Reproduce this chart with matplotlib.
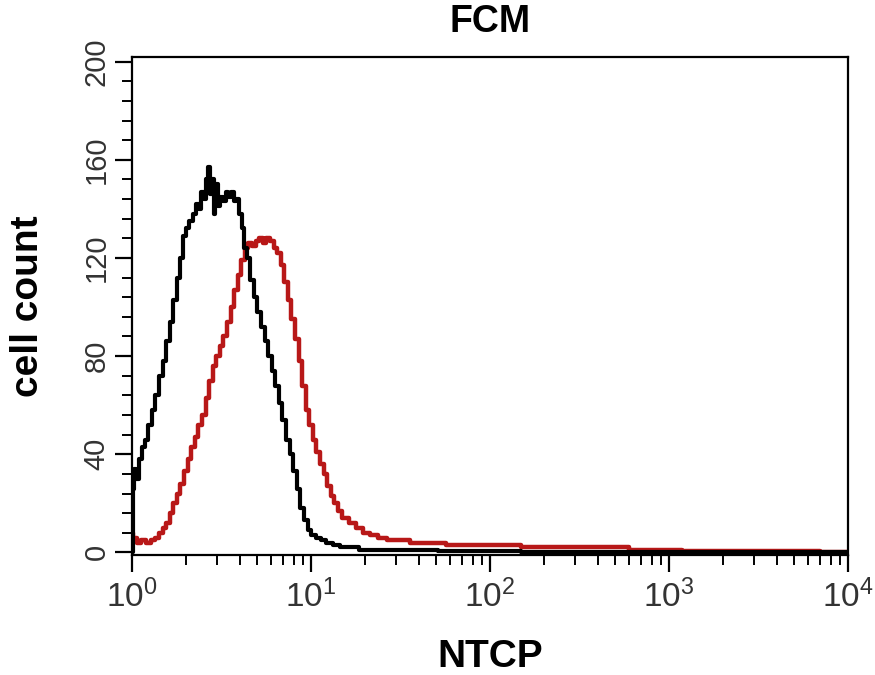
import numpy as np
import matplotlib.pyplot as plt
from matplotlib.ticker import MultipleLocator, LogLocator, LogFormatterSciNotation

plt.rcParams['font.family'] = ['Liberation Sans', 'DejaVu Sans']
plt.rcParams['mathtext.fontset'] = 'custom'
plt.rcParams['mathtext.rm'] = 'Liberation Sans'

# NTCP fluorescence channels (log10 of intensity) and cell counts
black_log = [0.000, 0.005, 0.015, 0.030, 0.045, 0.060, 0.080, 0.100, 0.120, 0.140,
             0.160, 0.180, 0.200, 0.220, 0.240, 0.260, 0.275, 0.290, 0.310, 0.330,
             0.350, 0.365, 0.380, 0.395, 0.410, 0.420, 0.430, 0.440, 0.450, 0.460,
             0.470, 0.485, 0.500, 0.515, 0.530, 0.545, 0.560, 0.575, 0.590, 0.605,
             0.620, 0.635, 0.650, 0.670, 0.690, 0.710, 0.730, 0.750, 0.770, 0.790,
             0.810, 0.830, 0.850, 0.870, 0.890, 0.910, 0.930, 0.950, 0.970, 0.990,
             1.010, 1.040, 1.070, 1.100, 1.140, 1.180, 1.230, 1.300, 1.400, 1.600,
             1.800, 2.000, 2.300, 4.000]
black_count = [0, 26, 34, 30, 38, 43, 46, 52, 58, 64,
               72, 78, 86, 94, 103, 112, 120, 129, 132, 135,
               138, 142, 140, 147, 144, 152, 157, 146, 152, 138,
               150, 141, 145, 143, 147, 145, 147, 143, 144, 138,
               132, 124, 120, 111, 104, 98, 92, 86, 80, 74,
               68, 61, 54, 46, 40, 33, 26, 18, 13, 9,
               7, 6, 5, 4, 3, 2, 2, 1, 1, 1,
               0.5, 0.5, 0, 0]

red_log = [0.000, 0.015, 0.035, 0.060, 0.090, 0.120, 0.140, 0.160, 0.180, 0.200,
           0.220, 0.240, 0.260, 0.280, 0.300, 0.320, 0.340, 0.360, 0.380, 0.400,
           0.420, 0.440, 0.460, 0.480, 0.500, 0.520, 0.540, 0.560, 0.580, 0.600,
           0.620, 0.640, 0.660, 0.680, 0.700, 0.720, 0.740, 0.760, 0.780, 0.800,
           0.820, 0.840, 0.860, 0.880, 0.900, 0.920, 0.940, 0.960, 0.980, 1.000,
           1.020, 1.040, 1.060, 1.080, 1.100, 1.120, 1.140, 1.160, 1.190, 1.230,
           1.270, 1.310, 1.350, 1.400, 1.450, 1.500, 1.600, 1.700, 1.800, 2.000,
           2.300, 2.600, 2.900, 3.200, 3.600, 4.000]
red_count = [8, 6, 4, 5, 4, 5, 6, 8, 10, 12,
             16, 20, 24, 28, 33, 38, 43, 47, 52, 56,
             63, 70, 76, 80, 84, 88, 94, 100, 107, 113,
             119, 124, 126, 125, 127, 128, 126, 128, 127, 124,
             122, 117, 110, 103, 95, 87, 78, 68, 58, 52,
             46, 41, 36, 32, 27, 23, 20, 17, 14, 12,
             10, 8, 7, 6, 5, 5, 4, 4, 3, 3,
             2, 2, 1, 0.5, 0.5, 0.3]

fig = plt.figure(figsize=(8.75, 6.75), dpi=100)
ax = fig.add_axes([0.151, 0.178, 0.818, 0.738])

ax.plot(10 ** np.array(red_log), red_count, color='#b81818', lw=3.2, drawstyle='steps-mid')
ax.plot(10 ** np.array(black_log), black_count, color='black', lw=3.0, drawstyle='steps-mid')

ax.set_xscale('log')
ax.set_xlim(1, 1e4)
ax.set_ylim(-1, 202)

ax.xaxis.set_major_locator(LogLocator(base=10))
ax.xaxis.set_minor_locator(LogLocator(base=10, subs=np.arange(2, 10)))
ax.xaxis.set_major_formatter(LogFormatterSciNotation())
ax.yaxis.set_major_locator(MultipleLocator(40))
ax.yaxis.set_minor_locator(MultipleLocator(8))

for s in ax.spines.values():
    s.set_linewidth(1.6)
ax.tick_params(which='major', direction='out', length=12, width=1.6,
               labelsize=21, labelcolor='#333333')
ax.tick_params(which='minor', direction='out', length=7, width=1.4)
ax.tick_params(axis='x', pad=6, labelsize=24)
plt.setp(ax.get_yticklabels(), rotation=90, va='center')

ax.set_title('FCM', fontsize=27, fontweight='bold', pad=18)
ax.set_xlabel('NTCP', fontsize=28, fontweight='bold', labelpad=18)
ax.set_ylabel('cell count', fontsize=28, fontweight='bold', labelpad=26)

fig.savefig('out.png', dpi=100)
